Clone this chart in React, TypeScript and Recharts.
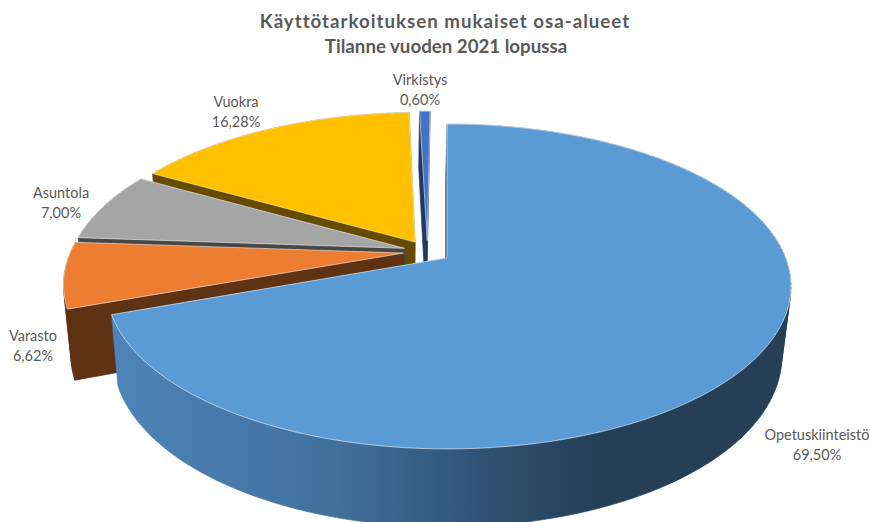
import { PieChart, Pie, Cell } from "recharts";

// drawn back to front, counter-clockwise from 12 o'clock
const categories = ["Virkistys", "Vuokra", "Asuntola", "Varasto", "Opetuskiinteistö"];
const shares = [0.6, 16.28, 7.0, 6.62, 69.5];
const topColors = ["#4472c4", "#ffc000", "#a5a5a5", "#ed7d31", "#5b9bd5"];
const wallColors = ["#1f3864", "#664c00", "#474747", "#5f3214", "url(#wallBlue)"];
const titleLines = ["Käyttötarkoituksen mukaiset osa-alueet", "Tilanne vuoden 2021 lopussa"];

const rows = categories.map((name, i) => ({ name, value: shares[i] }));

const CX = 447;
const CY = 258;
const RADIUS = 338.7;
const TILT = 157.5 / 338.7; // vertical squash of the pie plane
const PERSPECTIVE = 0.175;
const EXPLODE = 0.072;
const BOTTOM_SCALE = 0.977;
const BOTTOM_CENTER = 387;
const LEFT_SQUEEZE = 0.99;

const rad = (deg: number) => (deg * Math.PI) / 180;
const BIG_MID = 450 - (shares[4] / 2 / 100) * 360;

const labelSpots: Record<string, [number, number]> = {
  Virkistys: [420, 80],
  Vuokra: [236, 102],
  Asuntola: [61, 193],
  Varasto: [33, 336],
  Opetuskiinteistö: [817, 435],
};

type Pt = [number, number];

// plane coordinates (u right, v away from viewer) to screen
function project(u: number, v: number, R: number): Pt {
  const k = 1 + PERSPECTIVE * v;
  const squeezed = u < 0 ? u * LEFT_SQUEEZE : u;
  return [CX + (R * squeezed) / k, CY - (R * TILT * v) / k];
}

function lower(u: number, v: number, R: number): Pt {
  const [x, y] = project(u, v, R);
  return [BOTTOM_CENTER + (x - BOTTOM_CENTER) * BOTTOM_SCALE, y + 68 - 10 * v];
}

const toPath = (pts: Pt[]) =>
  pts.map((p, i) => `${i ? "L" : "M"}${p[0].toFixed(2)} ${p[1].toFixed(2)}`).join(" ") + " Z";

function area(pts: Pt[]) {
  let a = 0;
  pts.forEach((p, i) => {
    const q = pts[(i + 1) % pts.length];
    a += p[0] * q[1] - q[0] * p[1];
  });
  return a;
}

const Slice3D = (props: any) => {
  const { startAngle, endAngle, midAngle, outerRadius, fill, index } = props;
  const ox = EXPLODE * (Math.cos(rad(midAngle)) - Math.cos(rad(BIG_MID)));
  const oy = EXPLODE * (Math.sin(rad(midAngle)) - Math.sin(rad(BIG_MID)));

  const plane: Pt[] = [[ox, oy]];
  const steps = Math.max(4, Math.ceil(Math.abs(endAngle - startAngle) / 1.5));
  for (let i = 0; i <= steps; i++) {
    const a = rad(startAngle + ((endAngle - startAngle) * i) / steps);
    plane.push([ox + Math.cos(a), oy + Math.sin(a)]);
  }

  const top = plane.map(([u, v]) => project(u, v, outerRadius));
  const bottom = plane.map(([u, v]) => lower(u, v, outerRadius));

  const quads = plane.map((_, i) => {
    const j = (i + 1) % plane.length;
    const q: Pt[] = [top[i], top[j], bottom[j], bottom[i]];
    return toPath(area(q) < 0 ? q.reverse() : q);
  });
  const bottomPts = area(bottom) < 0 ? [...bottom].reverse() : bottom;
  const wall = [toPath(bottomPts), ...quads].join(" ");

  return (
    <g>
      <path d={wall} fill={wallColors[index]} stroke={wallColors[index]} strokeWidth={0.4} />
      <path d={toPath(top)} fill={fill} stroke="#ffffff" strokeOpacity={0.55} strokeWidth={1} />
    </g>
  );
};

const SliceLabel = (props: any) => {
  const [x, y] = labelSpots[props.name];
  return (
    <text textAnchor="middle" fill="#595959" fontSize={14.5} fontFamily="Lato">
      <tspan x={x} y={y + 5}>{props.name}</tspan>
      <tspan x={x} y={y + 25}>{props.value.toFixed(2).replace(".", ",")}%</tspan>
    </text>
  );
};

export default function App() {
  return (
    <div style={{ position: "absolute", left: 0, top: 0, width: 870, height: 522, background: "#fff" }}>
      <PieChart width={870} height={522} margin={{ top: 0, right: 0, bottom: 0, left: 0 }}>
        <defs>
          <linearGradient id="wallBlue" gradientUnits="userSpaceOnUse" x1={112} y1={0} x2={790} y2={0}>
            <stop offset="0" stopColor="#4e84b9" />
            <stop offset="0.33" stopColor="#41709c" />
            <stop offset="0.55" stopColor="#2f5273" />
            <stop offset="0.72" stopColor="#243f56" />
            <stop offset="1" stopColor="#243f56" />
          </linearGradient>
        </defs>
        <Pie
          data={rows}
          dataKey="value"
          nameKey="name"
          cx={CX}
          cy={CY}
          innerRadius={0}
          outerRadius={RADIUS}
          startAngle={90}
          endAngle={450}
          stroke="none"
          isAnimationActive={false}
          shape={(p: any) => <Slice3D {...p} />}
          labelLine={false}
          label={(p: any) => <SliceLabel {...p} />}
        >
          {rows.map((r, i) => (
            <Cell key={r.name} fill={topColors[i]} />
          ))}
        </Pie>
        {titleLines.map((line, i) => (
          <text
            key={line}
            x={445 + i}
            y={28 + i * 25}
            textAnchor="middle"
            fill="#595959"
            fontSize={18.7}
            fontWeight={700}
            fontFamily="Lato"
            letterSpacing={i === 0 ? 1 : 0}
          >
            {line}
          </text>
        ))}
      </PieChart>
    </div>
  );
}
